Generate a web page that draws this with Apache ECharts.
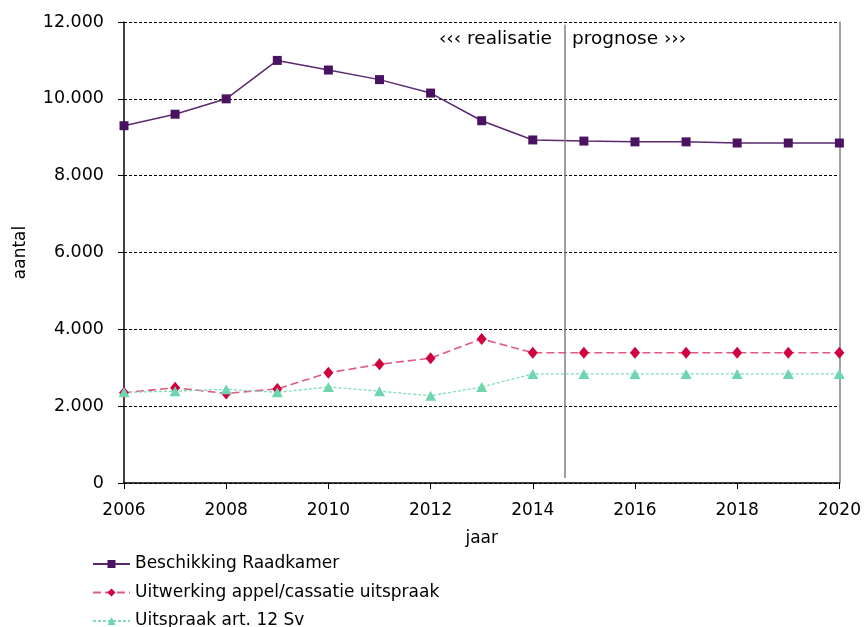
<!DOCTYPE html>
<html>
<head>
<meta charset="utf-8">
<script src="https://cdn.jsdelivr.net/npm/echarts@6/dist/echarts.min.js"></script>
<style>
html,body{margin:0;padding:0;background:#fff;}
#chart{width:864px;height:627px;}
</style>
</head>
<body>
<div id="chart"></div>
<script>
var years = [2006,2007,2008,2009,2010,2011,2012,2013,2014,2015,2016,2017,2018,2019,2020];
var raadkamer = [9300,9600,10000,11000,10750,10500,10150,9430,8930,8900,8880,8880,8850,8850,8850];
var appel = [2350,2480,2330,2450,2870,3090,3250,3750,3390,3390,3390,3390,3390,3390,3390];
var art12 = [2360,2390,2440,2360,2500,2390,2270,2500,2840,2840,2840,2840,2840,2840,2840];
var seriesNames = ['Beschikking Raadkamer','Uitwerking appel/cassatie uitspraak','Uitspraak art. 12 Sv'];
var yTicks = ['0','2.000','4.000','6.000','8.000','10.000','12.000'];
var splitYear = 2014.62;
var labelLeft = '\u2039\u2039\u2039 realisatie';
var labelRight = 'prognose \u203a\u203a\u203a';

function pairs(vals){ return years.map(function(y,i){ return [y, vals[i]]; }); }

var FONT = 'DejaVu Sans';
var legendTops = [554, 582.5, 611];
var legends = seriesNames.map(function(n,i){
  return {
    orient:'vertical', left:92, top:legendTops[i], itemWidth:37, itemHeight:10,
    padding:0,
    textStyle:{fontFamily:FONT, fontSize:17, color:'#000', lineHeight:20},
    data:[n]
  };
});

var chart = echarts.init(document.getElementById('chart'));
chart.setOption({
  animation:false,
  backgroundColor:'#fff',
  textStyle:{fontFamily:FONT},
  grid:{left:124, right:24, top:22, bottom:144, containLabel:false},
  legend:legends,
  xAxis:{
    type:'value', min:2006, max:2020, interval:2,
    name:'jaar', nameLocation:'middle', nameGap:47,
    nameTextStyle:{fontFamily:FONT, fontSize:17, color:'#000'},
    axisLine:{show:true, onZero:false, lineStyle:{color:'#000', width:1.5}},
    axisTick:{show:true, length:6, lineStyle:{color:'#000'}},
    axisLabel:{fontFamily:FONT, fontSize:17, color:'#000', margin:19, formatter:function(v){return String(v);}},
    splitLine:{show:false}
  },
  yAxis:[{
    type:'value', min:0, max:12000, interval:2000,
    name:'aantal', nameLocation:'middle', nameGap:95, nameRotate:90,
    nameTextStyle:{fontFamily:FONT, fontSize:17, color:'#000'},
    axisLine:{show:true, lineStyle:{color:'#000', width:1.5}},
    axisTick:{show:true, length:6, lineStyle:{color:'#000'}},
    axisLabel:{fontFamily:FONT, fontSize:17.5, color:'#000', margin:20,
      formatter:function(v){ return yTicks[Math.round(v/2000)]; }},
    splitLine:{show:true, lineStyle:{color:'#000', type:[3,2], width:1}}
  },{
    type:'value', min:0, max:12000, interval:2000, position:'right',
    axisLine:{show:true, lineStyle:{color:'#808080', width:1.5}},
    axisTick:{show:false}, axisLabel:{show:false}, splitLine:{show:false}
  }],
  graphic:[
    {type:'text', right:864-552, top:30, style:{text:labelLeft, font:'18.5px "DejaVu Sans"', fill:'#000'}},
    {type:'text', left:572, top:30, style:{text:labelRight, font:'18.5px "DejaVu Sans"', fill:'#000'}}
  ],
  series:[
    {
      name:seriesNames[0], type:'line', data:pairs(raadkamer),
      symbol:'rect', symbolSize:9,
      itemStyle:{color:'#4B1262'},
      lineStyle:{color:'#5A2A70', width:1.5, type:'solid'},
      markLine:{
        silent:true, symbol:['none','none'], label:{show:false},
        lineStyle:{color:'#808080', width:1.5, type:'solid'},
        data:[[{coord:[splitYear,11930]},{coord:[splitYear,130]}]]
      }
    },
    {
      name:seriesNames[1], type:'line', data:pairs(appel),
      symbol:'diamond', symbolSize:[10,12],
      itemStyle:{color:'#D0003F'},
      lineStyle:{color:'#DE5A80', width:1.6, type:[8,4]}
    },
    {
      name:seriesNames[2], type:'line', data:pairs(art12),
      symbol:'triangle', symbolSize:[11,10],
      itemStyle:{color:'#6ED6AC'},
      lineStyle:{color:'#7FDDB8', width:1.3, type:[3,2]}
    }
  ]
});
</script>
</body>
</html>
